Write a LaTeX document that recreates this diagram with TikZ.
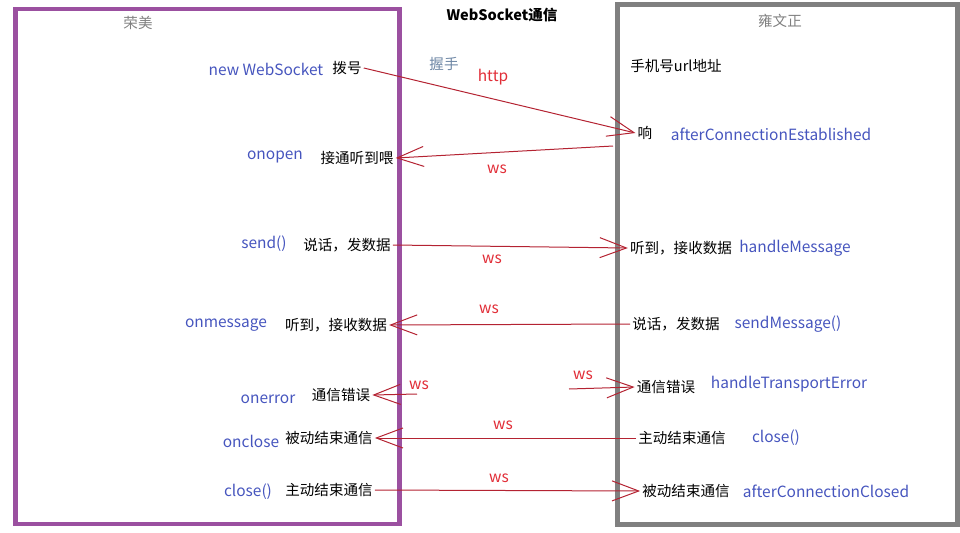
\documentclass[tikz,border=0pt]{standalone}
\usepackage{fontspec}
\setmainfont{Noto Sans CJK SC}
\usetikzlibrary{arrows.meta}
\definecolor{rongpurple}{RGB}{155,80,160}
\definecolor{boxgray}{RGB}{128,128,128}
\definecolor{apiblue}{RGB}{70,85,190}
\definecolor{wsred}{RGB}{225,45,55}
\definecolor{linered}{RGB}{180,35,50}
\definecolor{handgray}{RGB}{110,135,165}
\begin{document}
\begin{tikzpicture}[x=0.75pt,y=-0.75pt,
  txt/.style = {inner sep=1.5pt,font=\fontsize{10.9}{12}\selectfont},
  api/.style = {txt,text=apiblue,font=\fontsize{11.6}{13}\selectfont},
  wslabel/.style = {txt,text=wsred,font=\fontsize{11.6}{13}\selectfont},
  link/.style = {draw=linered,line width=0.75pt,-{Straight Barb[length=20pt,width=15pt]}}]
\useasboundingbox (0,0) rectangle (960,532);
\draw[rongpurple,line width=3.4pt] (15.5,9) rectangle (399.5,524);
\draw[boxgray,line width=3.75pt] (617,4.5) rectangle (957,524);
\node[txt,text=boxgray] (rong) at (138,23) {荣美};
\node[txt,font=\fontsize{10.9}{12}\selectfont\bfseries] (title) at (502,15) {WebSocket通信};
\node[txt,text=boxgray] (yong) at (780,21) {雍文正};
\node[api] (newws) at (266,69) {new WebSocket};
\node[txt] (dial) at (347,68) {拨号};
\node[txt,text=handgray] (shake) at (444,64) {握手};
\node[wslabel] (http) at (493,77) {http};
\node[txt] (url) at (676,66) {手机号url地址};
\node[txt] (ring) at (645,133) {响};
\node[api] (established) at (771,134) {afterConnectionEstablished};
\node[api] (onopen) at (275,157) {onopen};
\node[txt] (answer) at (357,158) {接通听到喂};
\node[api] (send) at (264,244) {send()};
\node[txt] (talkL) at (347,245) {说话，发数据};
\node[txt] (hearR) at (681,248) {听到，接收数据};
\node[api] (handlemsg) at (795,248) {handleMessage};
\node[api] (onmessage) at (226,325) {onmessage};
\node[txt] (hearL) at (336,325) {听到，接收数据};
\node[txt] (talkR) at (676,324) {说话，发数据};
\node[api] (sendmsg) at (788,324) {sendMessage()};
\node[api] (onerror) at (268,399) {onerror};
\node[txt] (errL) at (341,395) {通信错误};
\node[txt] (errR) at (666,387) {通信错误};
\node[api] (transerr) at (789,384) {handleTransportError};
\node[api] (onclose) at (251,441) {onclose};
\node[txt] (passiveL) at (329,438) {被动结束通信};
\node[txt] (activeR) at (682,438) {主动结束通信};
\node[api] (closeR) at (776,438) {close()};
\node[api] (closeL) at (248,492) {close()};
\node[txt] (activeL) at (329,490) {主动结束通信};
\node[txt] (passiveR) at (686,491) {被动结束通信};
\node[api] (closed) at (826,491) {afterConnectionClosed};
\foreach \x/\y in {497/169,492/259,489/309,419/385,583/375,503/425,499/478} \node[wslabel] at (\x,\y) {ws};
\coordinate (ringout) at (613,146);
\coordinate (errfromR) at (417,394);
\coordinate (errfromL) at (569,389);
\draw[link] (dial.east) -- (ring.west);
\draw[link] (ringout) -- (answer.east);
\draw[link] (talkL.east) -- (hearR.west);
\draw[link] (talkR.west) -- (hearL.east);
\draw[link] (errfromR) -- (errL.east);
\draw[link] (errfromL) -- (errR.west);
\draw[link] (activeR.west) -- (passiveL.east);
\draw[link] (activeL.east) -- (passiveR.west);
\end{tikzpicture}
\end{document}
